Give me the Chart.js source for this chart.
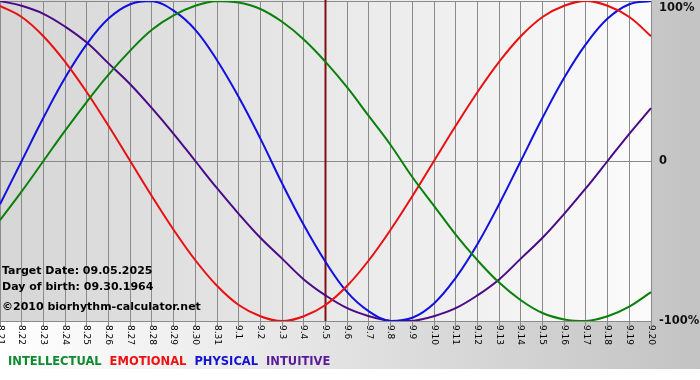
<!DOCTYPE html>
<html><head><meta charset="utf-8">
<script src="https://cdn.jsdelivr.net/npm/chart.js@4.4.1/dist/chart.umd.min.js"></script>
<style>html,body{margin:0;padding:0;background:#fff;}#wrap{width:700px;height:380px;position:relative;}</style>
</head><body>
<div id="wrap"><canvas id="c" width="700" height="380"></canvas></div>
<script>
const dayLabels = ['8.21','8.22','8.23','8.24','8.25','8.26','8.27','8.28','8.29','8.30','8.31',
  '9.1','9.2','9.3','9.4','9.5','9.6','9.7','9.8','9.9','9.10','9.11','9.12','9.13','9.14','9.15',
  '9.16','9.17','9.18','9.19','9.20'];
const intellectual = [-0.37,-0.19,0,0.19,0.37,0.54,0.69,0.82,0.91,0.97,1.0,0.99,0.95,0.87,0.76,0.62,
  0.46,0.28,0.10,-0.10,-0.28,-0.46,-0.62,-0.76,-0.87,-0.95,-0.99,-1.0,-0.97,-0.91,-0.82];
const emotional = [0.97,0.90,0.78,0.62,0.43,0.22,0,-0.22,-0.43,-0.62,-0.78,-0.90,-0.97,-1.0,-0.97,-0.90,
  -0.78,-0.62,-0.43,-0.22,0,0.22,0.43,0.62,0.78,0.90,0.97,1.0,0.97,0.90,0.78];
const physical = [-0.27,0,0.27,0.52,0.73,0.89,0.98,1.0,0.94,0.82,0.63,0.40,0.14,-0.14,-0.40,-0.63,
  -0.82,-0.94,-1.0,-0.98,-0.89,-0.73,-0.52,-0.27,0,0.27,0.52,0.73,0.89,0.98,1.0];
const intuitive = [1.0,0.97,0.92,0.84,0.74,0.61,0.48,0.33,0.17,0,-0.17,-0.33,-0.48,-0.61,-0.74,-0.84,
  -0.92,-0.97,-1.0,-1.0,-0.97,-0.92,-0.84,-0.74,-0.61,-0.48,-0.33,-0.17,0,0.17,0.33];
const seriesNames = ['INTELLECTUAL','EMOTIONAL','PHYSICAL','INTUITIVE'];
const seriesColors = ['#0a800a','#e81010','#1010e0','#4b0a86'];
const legendColors = ['#0e8a30','#f01010','#1414d0','#5a1a9a'];
const yTickLabels = {'-1':'-100%','0':'0','1':'100%'};
const infoLines = ['Target Date: 09.05.2025','Day of birth: 09.30.1964','\u00A92010 biorhythm-calculator.net'];
const targetDay = '9.5';

const bgPlugin = {
  id:'bg',
  beforeDraw(chart){
    const ctx = chart.ctx, a = chart.chartArea;
    ctx.save();
    ctx.fillStyle = '#ffffff';
    ctx.fillRect(0,0,chart.width,chart.height);
    let g = ctx.createLinearGradient(0,0,chart.width,0);
    g.addColorStop(0,'#ffffff'); g.addColorStop(1,'#c3c3c3');
    ctx.fillStyle = g;
    ctx.fillRect(0,0,chart.width,369);
    g = ctx.createLinearGradient(a.left,0,a.right,0);
    g.addColorStop(0,'#d6d6d6'); g.addColorStop(1,'#fbfbfb');
    ctx.fillStyle = g;
    ctx.fillRect(a.left,a.top-1,a.right-a.left,a.bottom-a.top+1);
    ctx.restore();
  },
  beforeDatasetsDraw(chart){
    const ctx = chart.ctx, a = chart.chartArea, xs = chart.scales.x;
    const x = xs.getPixelForValue(dayLabels.indexOf(targetDay));
    ctx.save();
    ctx.strokeStyle = '#801010'; ctx.lineWidth = 2;
    ctx.beginPath(); ctx.moveTo(x, a.top-1); ctx.lineTo(x, a.bottom); ctx.stroke();
    ctx.fillStyle = '#000';
    ctx.font = 'bold 11px "DejaVu Sans"';
    ctx.textBaseline = 'middle'; ctx.textAlign = 'left';
    ctx.fillText(infoLines[0], 2, 271);
    ctx.fillText(infoLines[1], 2, 287);
    ctx.fillText(infoLines[2], 2, 307);
    ctx.restore();
  },
  afterDraw(chart){
    const ctx = chart.ctx, xs = chart.scales.x;
    ctx.save();
    ctx.fillStyle = '#000';
    ctx.font = '9px "DejaVu Sans"';
    ctx.textAlign = 'left'; ctx.textBaseline = 'middle';
    xs.ticks.forEach((t,i)=>{
      const x = xs.getPixelForTick(i);
      ctx.save();
      ctx.translate(x, 325);
      ctx.rotate(Math.PI/2);
      ctx.fillText(dayLabels[t.value], 0, 0);
      ctx.restore();
    });
    ctx.font = 'bold 11.5px "DejaVu Sans"';
    let lx = 8;
    seriesNames.forEach((n,i)=>{
      ctx.fillStyle = legendColors[i];
      ctx.fillText(n, lx, 362);
      lx += ctx.measureText(n).width + 8;
    });
    ctx.restore();
  }
};

const mk = (label, data, color) => ({label, data, borderColor: color, borderWidth: 2,
  pointRadius: 0, tension: 0.4, fill: false});

new Chart(document.getElementById('c'), {
  type: 'line',
  data: {
    labels: dayLabels,
    datasets: [
      mk(seriesNames[0], intellectual, seriesColors[0]),
      mk(seriesNames[1], emotional, seriesColors[1]),
      mk(seriesNames[2], physical, seriesColors[2]),
      mk(seriesNames[3], intuitive, seriesColors[3])
    ]
  },
  options: {
    responsive: false,
    animation: false,
    devicePixelRatio: 1,
    layout: {padding: {top: 1, left: 0, right: 0, bottom: 0}},
    plugins: {legend: {display: false}, tooltip: {enabled: false}},
    scales: {
      x: {
        offset: false,
        grid: {color: '#8a8a8a', lineWidth: 1, tickLength: 5, drawTicks: true},
        border: {color: '#8a8a8a'},
        ticks: {display: false, autoSkip: false},
        afterFit(s){ s.height = 59; s.paddingLeft = 0; s.paddingRight = 0; }
      },
      y: {
        position: 'right',
        min: -1, max: 1,
        grid: {color: '#8a8a8a', lineWidth: 1, drawTicks: false},
        border: {color: '#8a8a8a'},
        ticks: {
          stepSize: 1, padding: 8, color: '#111',
          font: {family: '"DejaVu Sans"', size: 11.5, weight: 'bold', lineHeight: 1.15},
          callback: (v) => v === 1 ? ['', yTickLabels['1']] : yTickLabels[String(v)]
        },
        afterFit(s){ s.width = 49; s.paddingTop = 0; s.paddingBottom = 0; }
      }
    }
  },
  plugins: [bgPlugin]
});
</script>
</body></html>
